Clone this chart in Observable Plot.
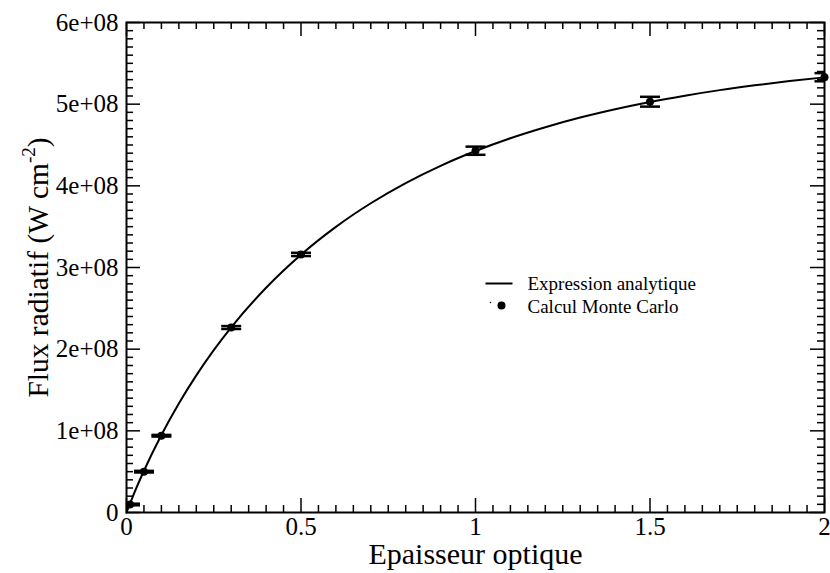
<!DOCTYPE html>
<html><head><meta charset="utf-8">
<script src="https://cdn.jsdelivr.net/npm/d3@7"></script>
<script src="https://cdn.jsdelivr.net/npm/@observablehq/plot@0.6"></script>
<style>body{margin:0;background:#fff} #chart svg{display:block} #chart svg text{font-family:"Liberation Serif",serif !important}</style>
</head><body><div id="chart"></div>
<script>
// Analytic expression
const curveTau  = [0, 0.01, 0.02, 0.05, 0.1, 0.15, 0.2, 0.25, 0.3, 0.4, 0.5, 0.6, 0.7, 0.8, 0.9, 1.0, 1.1, 1.2, 1.3, 1.4, 1.5, 1.6, 1.7, 1.8, 1.9, 2.0];
const curveFlux = [0, 1.10e7, 2.16e7, 5.11e7, 9.49e7, 1.335e8, 1.679e8, 1.988e8, 2.2675e8, 2.752e8, 3.157e8, 3.498e8, 3.787e8, 4.034e8, 4.245e8, 4.426e8, 4.583e8, 4.718e8, 4.836e8, 4.938e8, 5.027e8, 5.104e8, 5.172e8, 5.231e8, 5.283e8, 5.328e8];
// Monte Carlo results
const mcTau  = [0.01, 0.05, 0.1, 0.3, 0.5, 1.0, 1.5, 2.0];
const mcFlux = [0.98e7, 5.0e7, 9.4e7, 2.265e8, 3.16e8, 4.43e8, 5.03e8, 5.33e8];
const mcErr  = [1.0e6, 1.0e6, 1.0e6, 1.8e6, 2.0e6, 5.0e6, 6.0e6, 5.0e6];
// Ticks
const xMajor = [0, 0.5, 1, 1.5, 2];
const xLabels = ["0", "0.5", "1", "1.5", "2"];
const yMajor = [0, 1e8, 2e8, 3e8, 4e8, 5e8, 6e8];
const yLabels = ["0", "1e+08", "2e+08", "3e+08", "4e+08", "5e+08", "6e+08"];
const xTitle = "Epaisseur optique";
const yTitle = "Flux radiatif (W cm-2)";
const legendLabels = ["Expression analytique", "Calcul Monte Carlo"];

const curve = curveTau.map((t, i) => ({t, f: curveFlux[i]}));
const mc = mcTau.map((t, i) => ({t, f: mcFlux[i], lo: mcFlux[i] - mcErr[i], hi: mcFlux[i] + mcErr[i]}));
const xMinor = d3.range(0, 40.5, 1).map(k => k * 0.05).filter(v => Math.abs(v * 2 - Math.round(v * 2)) > 1e-6);
const yMinor = d3.range(0, 61, 1).map(k => k * 1e7).filter(v => Math.round(v / 1e7) % 10 !== 0);

const W = 830, H = 573;
const mTop = 22, mRight = 6, mBottom = 61, mLeft = 126;
const fw = W - mLeft - mRight, fh = H - mTop - mBottom;

const cap = {draw(ctx) { ctx.moveTo(-10, 0); ctx.lineTo(10, 0); }};
const legLine = {draw(ctx) { ctx.moveTo(-13.5, 0); ctx.lineTo(13.5, 0); }};

const font = "Liberation Serif";

const svg = Plot.plot({
  width: W, height: H,
  marginTop: mTop, marginRight: mRight, marginBottom: mBottom, marginLeft: mLeft,
  style: {fontFamily: font, background: "white", color: "black"},
  x: {domain: [0, 2]},
  y: {domain: [0, 6e8]},
  marks: [
    // minor ticks (inside, all four sides)
    Plot.tickX(xMinor, {x: d => d, insetTop: fh - 7, strokeWidth: 1.5}),
    Plot.tickX(xMinor, {x: d => d, insetBottom: fh - 7, strokeWidth: 1.5}),
    Plot.tickY(yMinor, {y: d => d, insetRight: fw - 7, strokeWidth: 1.5}),
    Plot.tickY(yMinor, {y: d => d, insetLeft: fw - 7, strokeWidth: 1.5}),
    // major ticks
    Plot.tickX(xMajor, {x: d => d, insetTop: fh - 14, strokeWidth: 1.5}),
    Plot.tickX(xMajor, {x: d => d, insetBottom: fh - 14, strokeWidth: 1.5}),
    Plot.tickY(yMajor, {y: d => d, insetRight: fw - 14, strokeWidth: 1.5}),
    Plot.tickY(yMajor, {y: d => d, insetLeft: fw - 14, strokeWidth: 1.5}),
    Plot.axisX({ticks: xMajor, tickFormat: d => xLabels[xMajor.indexOf(d)], tickSize: 0, tickPadding: 5, fontSize: 25, fontFamily: font, label: null}),
    Plot.axisY({ticks: yMajor, tickFormat: d => yLabels[yMajor.indexOf(d)], tickSize: 0, tickPadding: 8, fontSize: 25, fontFamily: font, label: null}),
    // analytic curve
    Plot.line(curve, {x: "t", y: "f", stroke: "black", strokeWidth: 2, curve: "monotone-x"}),
    // Monte Carlo with error bars
    Plot.ruleX(mc, {x: "t", y1: "lo", y2: "hi", stroke: "black", strokeWidth: 2}),
    Plot.dot(mc, {x: "t", y: "lo", symbol: cap, fill: "none", stroke: "black", strokeWidth: 2.5, clip: true}),
    Plot.dot(mc, {x: "t", y: "hi", symbol: cap, fill: "none", stroke: "black", strokeWidth: 2.5, clip: true}),
    Plot.frame({stroke: "black", strokeWidth: 2}),
    Plot.dot(mc, {x: "t", y: "f", r: 4, fill: "black", stroke: "none"}),
    // titles
    Plot.text([xTitle], {frameAnchor: "bottom", dy: 42, lineAnchor: "middle", fontSize: 30, fontFamily: font, text: d => d}),
    Plot.text([yTitle], {frameAnchor: "left", dx: -88, rotate: -90, lineAnchor: "middle", textAnchor: "start", fontSize: 29.5, fontFamily: font, text: d => d}),
    // legend
    Plot.dot([0], {frameAnchor: "top-left", dx: 372.5, dy: 261, symbol: legLine, fill: "none", stroke: "black", strokeWidth: 2}),
    Plot.dot([0], {frameAnchor: "top-left", dx: 364, dy: 280, r: 0.8, fill: "black"}),
    Plot.dot([0], {frameAnchor: "top-left", dx: 375, dy: 283, r: 4, fill: "black"}),
    Plot.text([legendLabels[0]], {frameAnchor: "top-left", dx: 401, dy: 261, textAnchor: "start", lineAnchor: "middle", fontSize: 19, fontFamily: font, text: d => d}),
    Plot.text([legendLabels[1]], {frameAnchor: "top-left", dx: 401, dy: 284, textAnchor: "start", lineAnchor: "middle", fontSize: 19, fontFamily: font, text: d => d})
  ]
});

document.getElementById("chart").append(svg);

// superscript in the y title, then centre it along the frame
svg.querySelectorAll("text").forEach(t => {
  if (t.textContent === yTitle) {
    const NS = "http://www.w3.org/2000/svg";
    t.textContent = "";
    const a = document.createElementNS(NS, "tspan"); a.textContent = "Flux radiatif (W cm";
    const b = document.createElementNS(NS, "tspan"); b.textContent = "-2"; b.setAttribute("dy", "-13"); b.setAttribute("font-size", "19");
    const c = document.createElementNS(NS, "tspan"); c.textContent = ")"; c.setAttribute("dy", "13");
    t.append(a, b, c);
    t.setAttribute("text-anchor", "start");
    const len = t.getComputedTextLength();
    t.setAttribute("x", String(-len / 2));
  }
});
</script>
</body></html>
